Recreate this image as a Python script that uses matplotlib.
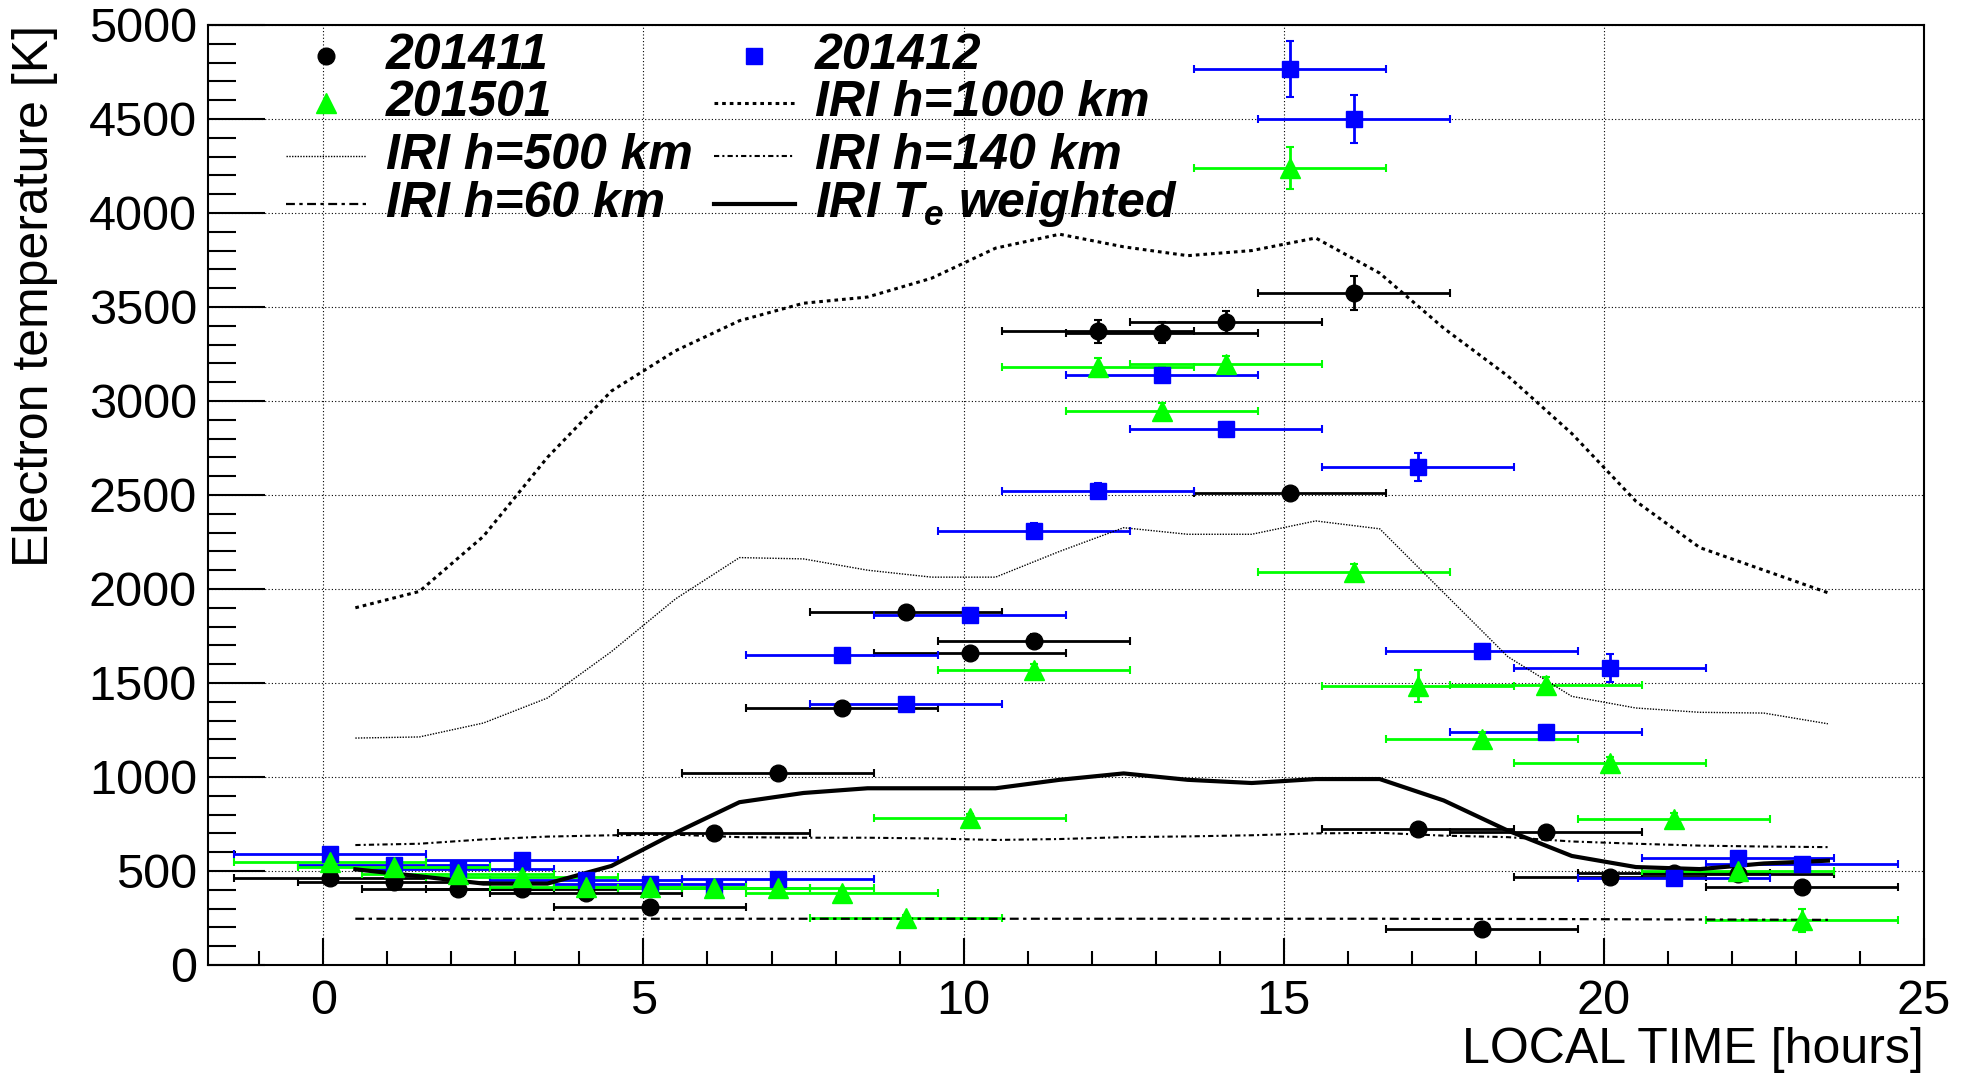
import matplotlib
matplotlib.use("Agg")
import matplotlib.pyplot as plt
from matplotlib.lines import Line2D

plt.rcParams['font.family'] = ['Liberation Sans', 'DejaVu Sans']
plt.rcParams['mathtext.fontset'] = 'custom'
plt.rcParams['mathtext.it'] = 'Liberation Sans:bold:italic'
plt.rcParams['mathtext.rm'] = 'Liberation Sans:bold:italic'

# local time of each measurement bin
hours = [0.1, 1.1, 2.1, 3.1, 4.1, 5.1, 6.1, 7.1, 8.1, 9.1, 10.1, 11.1,
         12.1, 13.1, 14.1, 15.1, 16.1, 17.1, 18.1, 19.1, 20.1, 21.1, 22.1, 23.1]
hour_err = [1.5] * 24

te_201411 = [465, 440, 405, 403, 383, 311, 700, 1020, 1367, 1877, 1659, 1724,
             3370, 3363, 3420, 2510, 3575, 721, 189, 706, 470, 490, 482, 416]
err_201411 = [20, 20, 15, 15, 15, 15, 20, 25, 30, 35, 30, 35,
              60, 55, 60, 30, 90, 25, 15, 25, 20, 20, 20, 20]

te_201412 = [592, 530, 512, 560, 450, 430, 410, 455, 1650, 1390, 1862, 2309,
             2523, 3140, 2850, 4765, 4500, 2650, 1668, 1239, 1579, 462, 567, 536]
err_201412 = [20, 20, 20, 20, 15, 15, 15, 20, 30, 30, 35, 40,
              40, 40, 40, 150, 130, 75, 40, 35, 75, 20, 20, 20]

te_201501 = [546, 522, 482, 470, 415, 415, 408, 412, 385, 251, 780, 1567,
             3180, 2947, 3195, 4240, 2093, 1482, 1202, 1490, 1073, 777, 498, 237]
err_201501 = [20, 20, 15, 15, 15, 15, 15, 15, 15, 15, 25, 35,
              50, 40, 45, 110, 40, 85, 35, 40, 35, 30, 20, 60]

# IRI model curves, half-hour grid
iri_hours = [0.5, 1.5, 2.5, 3.5, 4.5, 5.5, 6.5, 7.5, 8.5, 9.5, 10.5, 11.5,
             12.5, 13.5, 14.5, 15.5, 16.5, 17.5, 18.5, 19.5, 20.5, 21.5, 22.5, 23.5]
iri_1000 = [1900, 1987, 2280, 2700, 3053, 3267, 3427, 3520, 3553, 3653, 3813, 3887,
            3820, 3773, 3800, 3867, 3680, 3387, 3133, 2827, 2467, 2220, 2100, 1980]
iri_500 = [1207, 1213, 1287, 1420, 1667, 1947, 2167, 2160, 2100, 2063, 2063, 2200,
           2326, 2291, 2291, 2362, 2320, 1980, 1640, 1429, 1367, 1344, 1340, 1283]
iri_140 = [638, 645, 668, 683, 690, 693, 680, 677, 677, 673, 665, 670,
           680, 684, 690, 700, 703, 688, 680, 657, 645, 635, 630, 627]
iri_60 = [246, 246, 246, 246, 246, 246, 246, 246, 246, 246, 246, 246,
          246, 246, 246, 246, 246, 245, 245, 244, 243, 242, 241, 240]
iri_weighted = [509, 472, 433, 433, 527, 703, 866, 915, 940, 940, 940, 985,
                1019, 985, 968, 989, 989, 875, 715, 580, 521, 510, 540, 555]

GREEN = '#00ff00'
BLUE = '#0000ff'

fig = plt.figure(figsize=(19.65, 10.77), dpi=100)
ax = fig.add_axes([0.1059, 0.1040, 0.9791 - 0.1059, 0.9768 - 0.1040])

ax.grid(True, which='major', color='black', lw=0.8, linestyle=(0, (1, 2)))
ax.set_axisbelow(True)

ebkw = dict(linestyle='none', elinewidth=2, capsize=3, capthick=1.5)
ax.errorbar(hours, te_201411, xerr=hour_err, yerr=err_201411, fmt='o', color='black',
            markersize=12, **ebkw)
ax.errorbar(hours, te_201412, xerr=hour_err, yerr=err_201412, fmt='s', color=BLUE,
            markersize=12, **ebkw)
ax.errorbar(hours, te_201501, xerr=hour_err, yerr=err_201501, fmt='^', color=GREEN,
            markersize=14, **ebkw)

ax.plot(iri_hours, iri_1000, color='black', lw=2.2, dashes=(1.2, 1.3))
ax.plot(iri_hours, iri_500, color='black', lw=1.0, dashes=(1, 1))
ax.plot(iri_hours, iri_140, color='black', lw=1.5, dashes=(2.5, 1.5, 1, 1.5))
ax.plot(iri_hours, iri_60, color='black', lw=1.6, dashes=(4, 2, 1.5, 2))
ax.plot(iri_hours, iri_weighted, color='black', lw=3)

ax.set_xlim(-1.8, 25)
ax.set_ylim(0, 5000)
ax.set_xticks([0, 5, 10, 15, 20, 25])
ax.set_xticks(range(-1, 26), minor=True)
ax.set_yticks(range(0, 5001, 500))
ax.set_yticks(range(0, 5001, 100), minor=True)
ax.tick_params(axis='both', which='both', direction='in', top=False, right=False,
               width=1.5, labelsize=35)
ax.tick_params(axis='x', which='major', length=19.5, pad=10)
ax.tick_params(axis='x', which='minor', length=10)
ax.tick_params(axis='y', which='major', length=41, pad=8)
ax.tick_params(axis='y', which='minor', length=20)
for sp in ax.spines.values():
    sp.set_linewidth(1.5)

fig.text(0.018, 0.9768, 'Electron temperature [K]', rotation=90, ha='center', va='top',
         fontsize=36)
fig.text(0.9791, 0.025, 'LOCAL TIME [hours]', ha='right', va='center', fontsize=36)

# two-column legend drawn entry by entry
col_x = [(0.0455, 0.0921, 0.0688, 0.1037), (0.2949, 0.342, 0.318, 0.3537)]
row_y = [0.967, 0.917, 0.861, 0.810]
entries = [
    (0, 0, 'o', 'black', 12, None, '201411'),
    (0, 1, '^', GREEN, 14, None, '201501'),
    (0, 2, None, 'black', 0, dict(lw=1.0, dashes=(1, 1)), 'IRI h=500 km'),
    (0, 3, None, 'black', 0, dict(lw=1.6, dashes=(4, 2, 1.5, 2)), 'IRI h=60 km'),
    (1, 0, 's', BLUE, 12, None, '201412'),
    (1, 1, None, 'black', 0, dict(lw=2.2, dashes=(1.2, 1.3)), 'IRI h=1000 km'),
    (1, 2, None, 'black', 0, dict(lw=1.5, dashes=(2.5, 1.5, 1, 1.5)), 'IRI h=140 km'),
    (1, 3, None, 'black', 0, dict(lw=3), r'IRI $T_e$ weighted'),
]
for col, row, marker, color, ms, style, label in entries:
    x0, x1, xm, xt = col_x[col]
    y = row_y[row]
    if marker is not None:
        ax.add_line(Line2D([xm], [y], marker=marker, color=color, markersize=ms,
                           linestyle='none', transform=ax.transAxes))
    else:
        ax.add_line(Line2D([x0, x1], [y, y], color=color, transform=ax.transAxes, **style))
    ax.text(xt, y, label, transform=ax.transAxes, ha='left', va='center',
            fontsize=36, fontweight='bold', fontstyle='italic')

fig.savefig('out.png', dpi=100)
